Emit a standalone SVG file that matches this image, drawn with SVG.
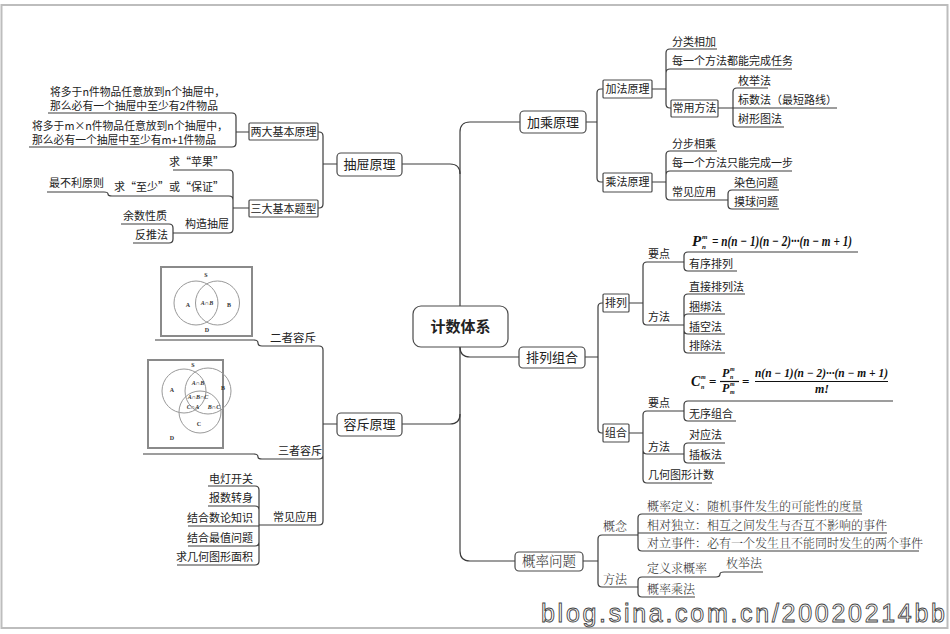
<svg xmlns="http://www.w3.org/2000/svg" width="950" height="634" viewBox="0 0 950 634">
<style>
.ln{fill:none;stroke:#3c3c3c;stroke-width:1.2}
.bx{fill:#fff;stroke:#4a4a4a;stroke-width:1.2}
.t{font-family:"Noto Sans CJK SC","Microsoft YaHei",sans-serif;font-size:11px;fill:#222}
.tm{font-size:13px}
.e{text-anchor:end}
.m{text-anchor:middle}
.sf{font-family:"Noto Serif CJK SC","Noto Sans CJK SC",serif;font-size:12px;fill:#333;font-weight:300}
.mt{font-family:"Liberation Serif",serif;font-weight:bold;font-style:italic;fill:#111}
.vl{font-family:"Liberation Serif",serif;font-weight:bold;font-size:6px;fill:#333;text-anchor:middle}
.vc{fill:none;stroke:#999;stroke-width:1}
.vf{fill:#fff;stroke:#8a8a8a;stroke-width:2}
</style>
<rect x="1.5" y="5" width="946" height="623" fill="#fff" stroke="#bdbdbd" stroke-width="2"/>

<g id="connectors">
<path class="ln" d="M460,132 V551"/>
<path class="ln" d="M460,132 Q460,122 470,122 H520"/>
<path class="ln" d="M402,164 H450 Q460,164 460,174"/>
<path class="ln" d="M402,424 H450 Q460,424 460,414"/>
<path class="ln" d="M460,347 Q460,357 470,357 H519"/>
<path class="ln" d="M460,551 Q460,561 470,561 H515"/>
<path class="ln" d="M586,122 H597 M597,122 V93 Q597,89 601,89 H603 M597,122 V178 Q597,182 601,182 H603"/>
<path class="ln" d="M652,89 H666 M666,89 V53 Q666,49 670,49 H717 M666,89 V73 Q666,69 670,69 H792 M666,89 V104 Q666,108 670,108 H671"/>
<path class="ln" d="M718,108 H837 M733,108 V92 Q733,88 737,88 H768 M733,108 V123 Q733,127 737,127 H784"/>
<path class="ln" d="M652,182 H666 M666,182 V155 Q666,151 670,151 H717 M666,182 V175 Q666,171 670,171 H792 M666,182 V196 Q666,200 670,200 H728"/>
<path class="ln" d="M728,200 V194 Q728,190 732,190 H779 M728,200 V205 Q728,209 732,209 H779"/>
<path class="ln" d="M585,357 H598 M598,357 V307 Q598,303 602,303 H603 M598,357 V429 Q598,433 602,433 H603"/>
<path class="ln" d="M629,303 H643 M643,303 V266 Q643,262 647,262 H684 M643,303 V321 Q643,325 647,325 H684"/>
<path class="ln" d="M684,262 V256 Q684,252 688,252 H858 M684,262 V267 Q684,271 688,271 H737"/>
<path class="ln" d="M684,325 V298 Q684,294 688,294 H745 M684,325 V318 Q684,314 688,314 H725 M684,325 V330 Q684,334 688,334 H725 M684,325 V349 Q684,353 688,353 H725"/>
<path class="ln" d="M629,433 H643 M643,433 V415 Q643,411 647,411 H684 M643,433 V450 Q643,454 647,454 H684 M643,433 V479 Q643,483 647,483 H712"/>
<path class="ln" d="M684,411 V405 Q684,401 688,401 H893 M684,411 V417 Q684,421 688,421 H736"/>
<path class="ln" d="M684,454 V447 Q684,443 688,443 H725 M684,454 V459 Q684,463 688,463 H725"/>
<path class="ln" d="M583,561 H598 M598,561 V539 Q598,535 602,535 H638 M598,561 V583 Q598,587 602,587 H638"/>
<path class="ln" d="M638,535 V518 Q638,514 642,514 H862 M638,533 H887 M638,535 V547 Q638,551 642,551 H919"/>
<path class="ln" d="M638,587 V581 Q638,577 642,577 H716 Q720,577 720,574 Q720,572 724,572 H763 M638,587 V593 Q638,597 642,597 H695"/>
<path class="ln" d="M337,164 H323 M323,164 V136 Q323,132 319,132 H318 M323,164 V204 Q323,208 319,208 H318"/>
<path class="ln" d="M249,132 H236 M236,132 V117 Q236,113 232,113 H48 M236,132 V143 Q236,147 232,147 H29"/>
<path class="ln" d="M249,208 H233 M233,208 V174 Q233,170 229,170 H173 M233,208 V200 Q233,196 229,196 H112 Q108,196 108,194 Q108,192 104,192 H47 M233,208 V229 Q233,233 229,233 H173"/>
<path class="ln" d="M173,233 V228 Q173,224 169,224 H121 M173,233 V239 Q173,243 169,243 H133"/>
<path class="ln" d="M337,424 H323 M323,424 V350 Q323,346 319,346 H262 Q258,346 258,343 Q258,340 254,340 H155 M323,424 V455 Q323,459 319,459 H262 Q258,459 258,457 Q258,454 254,454 H143 M323,424 V521 Q323,525 319,525 H259"/>
<path class="ln" d="M259,525 V490 Q259,486 255,486 H208 M259,525 V510 Q259,506 255,506 H208 M259,526 H188 M259,525 V542 Q259,546 255,546 H188 M259,525 V561 Q259,565 255,565 H177"/>
</g>

<g id="n-root"><rect class="bx" x="413" y="306" width="95" height="41" rx="8"/><text class="t m" x="460.5" y="332" style="font-size:15px;font-weight:bold">计数体系</text></g>

<g id="n-jiacheng"><rect class="bx" x="520" y="111" width="66" height="22" rx="4"/><text class="t tm m" x="553" y="127">加乘原理</text></g>
<g id="n-jiafa"><rect class="bx" x="603" y="80" width="49" height="18" rx="1"/><text class="t m" x="627.5" y="93">加法原理</text></g>
<g id="n-fenlei"><text class="t" x="672" y="46">分类相加</text></g>
<g id="n-meiyi1"><text class="t" x="672" y="65">每一个方法都能完成任务</text></g>
<g id="n-changyong"><rect class="bx" x="671" y="100" width="47" height="17" rx="1"/><text class="t m" x="694.5" y="112">常用方法</text></g>
<g id="n-meiju"><text class="t" x="738" y="85">枚举法</text></g>
<g id="n-biaoshu"><text class="t" x="738" y="104">标数法（最短路线）</text></g>
<g id="n-shuxing"><text class="t" x="738" y="123">树形图法</text></g>
<g id="n-chengfa"><rect class="bx" x="603" y="173" width="49" height="19" rx="1"/><text class="t m" x="627.5" y="186">乘法原理</text></g>
<g id="n-fenbu"><text class="t" x="672" y="148">分步相乘</text></g>
<g id="n-meiyi2"><text class="t" x="672" y="167">每一个方法只能完成一步</text></g>
<g id="n-changjian1"><text class="t" x="672" y="196">常见应用</text></g>
<g id="n-ranse"><text class="t" x="734" y="187">染色问题</text></g>
<g id="n-moqiu"><text class="t" x="734" y="206">摸球问题</text></g>

<g id="n-pailiezuhe"><rect class="bx" x="519" y="347" width="66" height="21" rx="4"/><text class="t tm m" x="552" y="362">排列组合</text></g>
<g id="n-pailie"><rect class="bx" x="603" y="294" width="26" height="18" rx="1"/><text class="t m" x="616" y="307">排列</text></g>
<g id="n-yaodian1"><text class="t" x="648" y="258">要点</text></g>
<g id="n-formula1">
<text class="mt" x="692" y="246" font-size="15">P</text>
<text class="mt" x="702" y="239" font-size="7">m</text>
<text class="mt" x="702" y="249" font-size="7">n</text>
<text class="mt" x="712" y="246" font-size="15" textLength="140" lengthAdjust="spacingAndGlyphs">= n(n − 1)(n − 2)···(n − m + 1)</text>
</g>
<g id="n-youxu"><text class="t" x="689" y="268">有序排列</text></g>
<g id="n-fangfa1"><text class="t" x="648" y="321">方法</text></g>
<g id="n-zhijie"><text class="t" x="689" y="291">直接排列法</text></g>
<g id="n-kunbang"><text class="t" x="689" y="311">捆绑法</text></g>
<g id="n-chakong"><text class="t" x="689" y="331">插空法</text></g>
<g id="n-paichu"><text class="t" x="689" y="350">排除法</text></g>
<g id="n-zuhe"><rect class="bx" x="603" y="424" width="26" height="18" rx="1"/><text class="t m" x="616" y="437">组合</text></g>
<g id="n-yaodian2"><text class="t" x="648" y="407">要点</text></g>
<g id="n-formula2">
<text class="mt" x="691" y="386" font-size="14">C</text>
<text class="mt" x="701" y="379" font-size="6">m</text>
<text class="mt" x="701" y="389" font-size="6">n</text>
<text class="mt" x="709" y="386" font-size="13" style="font-style:normal">=</text>
<text class="mt" x="722" y="377" font-size="12">P</text>
<text class="mt" x="730" y="371" font-size="6">m</text>
<text class="mt" x="730" y="379" font-size="6">n</text>
<line x1="720" y1="381.5" x2="739" y2="381.5" stroke="#111" stroke-width="1.2"/>
<text class="mt" x="722" y="392" font-size="12">P</text>
<text class="mt" x="730" y="386" font-size="6">m</text>
<text class="mt" x="730" y="394" font-size="6">m</text>
<text class="mt" x="742" y="386" font-size="13" style="font-style:normal">=</text>
<text class="mt" x="755" y="377" font-size="12" textLength="133" lengthAdjust="spacingAndGlyphs">n(n − 1)(n − 2)···(n − m + 1)</text>
<line x1="755" y1="381.5" x2="888" y2="381.5" stroke="#111" stroke-width="1.2"/>
<text class="mt" x="815" y="393" font-size="12">m!</text>
</g>
<g id="n-wuxu"><text class="t" x="689" y="418">无序组合</text></g>
<g id="n-fangfa2"><text class="t" x="648" y="451">方法</text></g>
<g id="n-duiying"><text class="t" x="689" y="439">对应法</text></g>
<g id="n-chaban"><text class="t" x="689" y="459">插板法</text></g>
<g id="n-jihe"><text class="t" x="648" y="479">几何图形计数</text></g>

<g id="n-gailv"><rect class="bx" x="515" y="552" width="68" height="19" rx="4"/><text class="sf m" x="549" y="566" style="font-size:13.5px">概率问题</text></g>
<g id="n-gainian"><text class="sf" x="603" y="531">概念</text></g>
<g id="n-def"><text class="sf" x="647" y="511">概率定义：随机事件发生的可能性的度量</text></g>
<g id="n-indep"><text class="sf" x="647" y="530">相对独立：相互之间发生与否互不影响的事件</text></g>
<g id="n-duili"><text class="sf" x="647" y="548">对立事件：必有一个发生且不能同时发生的两个事件</text></g>
<g id="n-fangfa3"><text class="sf" x="603" y="584">方法</text></g>
<g id="n-dingyi"><text class="sf" x="647" y="573">定义求概率</text></g>
<g id="n-meiju2"><text class="sf" x="726" y="568">枚举法</text></g>
<g id="n-chengfa2"><text class="sf" x="647" y="594">概率乘法</text></g>

<g id="n-chouti"><rect class="bx" x="337" y="153" width="65" height="23" rx="4"/><text class="t tm m" x="369.5" y="169">抽屉原理</text></g>
<g id="n-liangda"><rect class="bx" x="249" y="123" width="69" height="17" rx="1"/><text class="t m" x="283.5" y="136">两大基本原理</text></g>
<g id="n-yuanli1"><text class="t" x="50" y="96" style="font-size:10.8px"><tspan x="50" y="96">将多于n件物品任意放到n个抽屉中，</tspan><tspan x="50" y="110">那么必有一个抽屉中至少有2件物品</tspan></text></g>
<g id="n-yuanli2"><text class="t" x="32" y="130" style="font-size:10.8px"><tspan x="32" y="130">将多于m×n件物品任意放到n个抽屉中，</tspan><tspan x="32" y="144">那么必有一个抽屉中至少有m+1件物品</tspan></text></g>
<g id="n-sanda"><rect class="bx" x="249" y="200" width="69" height="17" rx="1"/><text class="t m" x="283.5" y="213">三大基本题型</text></g>
<g id="n-pingguo"><text class="t e" x="224" y="166">求“苹果”</text></g>
<g id="n-zhishao"><text class="t e" x="224" y="191">求“至少”或“保证”</text></g>
<g id="n-zuibuli"><text class="t" x="49" y="187">最不利原则</text></g>
<g id="n-gouzao"><text class="t e" x="229" y="228">构造抽屉</text></g>
<g id="n-yushu"><text class="t" x="123" y="220">余数性质</text></g>
<g id="n-fantui"><text class="t" x="135" y="239">反推法</text></g>

<g id="n-rongchi"><rect class="bx" x="337" y="413" width="65" height="23" rx="4"/><text class="t tm m" x="369.5" y="429">容斥原理</text></g>
<g id="n-erzhe">
<rect class="vf" x="161" y="267" width="91" height="69"/>
<circle class="vc" cx="196" cy="303" r="22"/>
<circle class="vc" cx="217.5" cy="303" r="22"/>
<text class="vl" x="206" y="277">S</text>
<text class="vl" x="188" y="307">A</text>
<text class="vl" x="207" y="305" style="font-style:italic">A∩B</text>
<text class="vl" x="229" y="307">B</text>
<text class="vl" x="207" y="332">D</text>
<text class="t" x="270" y="342" style="font-size:11.5px">二者容斥</text>
</g>
<g id="n-sanzhe">
<rect class="vf" x="148" y="360" width="75" height="88"/>
<circle class="vc" cx="184" cy="391" r="22"/>
<circle class="vc" cx="208" cy="391" r="23"/>
<circle class="vc" cx="200" cy="412" r="21"/>
<text class="vl" x="193" y="367">S</text>
<text class="vl" x="172" y="392">A</text>
<text class="vl" x="198" y="385" style="font-style:italic">A∩B</text>
<text class="vl" x="223" y="390">B</text>
<text class="vl" x="198" y="399" style="font-style:italic">A∩B∩C</text>
<text class="vl" x="193" y="409" style="font-style:italic">C∩A</text>
<text class="vl" x="214" y="409" style="font-style:italic">B∩C</text>
<text class="vl" x="199" y="426">C</text>
<text class="vl" x="172" y="440">D</text>
<text class="t" x="278" y="455" style="font-size:11px">三者容斥</text>
</g>
<g id="n-changjian2"><text class="t" x="273" y="521">常见应用</text></g>
<g id="n-diandeng"><text class="t e" x="253" y="483">电灯开关</text></g>
<g id="n-baoshu"><text class="t e" x="253" y="502">报数转身</text></g>
<g id="n-shulun"><text class="t e" x="253" y="522">结合数论知识</text></g>
<g id="n-zuizhi"><text class="t e" x="253" y="542">结合最值问题</text></g>
<g id="n-mianji"><text class="t e" x="253" y="561">求几何图形面积</text></g>

<text x="541" y="622" font-family="Liberation Sans, sans-serif" font-size="25" fill="#fff" stroke="#444" stroke-width="0.9" textLength="404" lengthAdjust="spacing">blog.sina.com.cn/20020214bb</text>
</svg>
